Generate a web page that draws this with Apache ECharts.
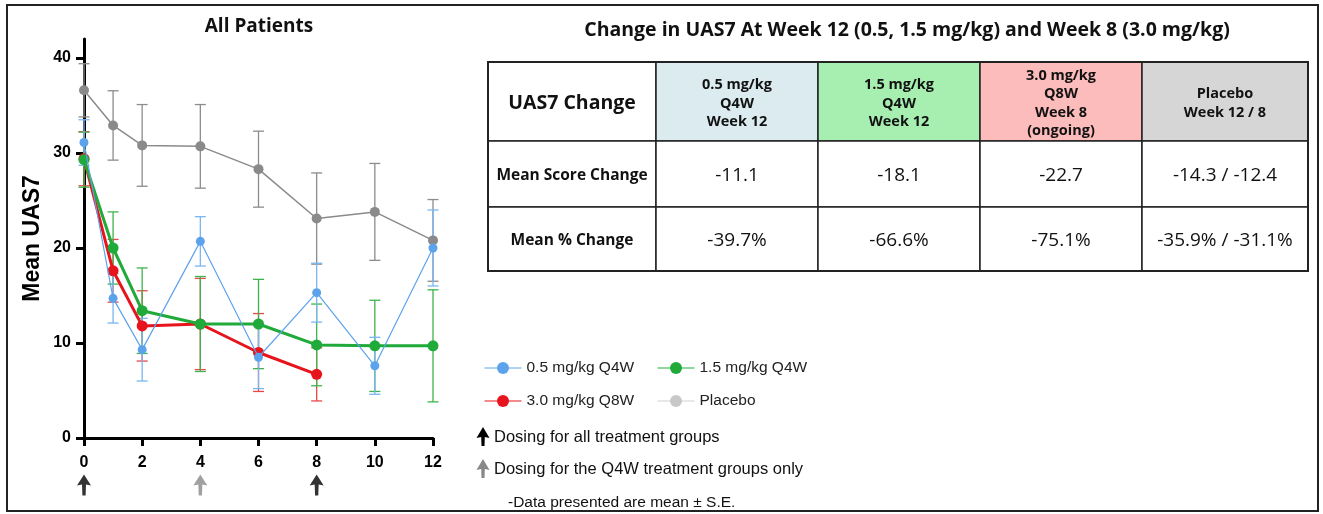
<!DOCTYPE html>
<html>
<head>
<meta charset="utf-8">
<script src="https://cdn.jsdelivr.net/npm/echarts@6/dist/echarts.min.js"></script>
<style>
  html, body { margin: 0; padding: 0; background: #fff; }
  #chart { width: 1323px; height: 514px; }
</style>
</head>
<body>
<div id="chart"></div>
<script>
var myChart = echarts.init(document.getElementById('chart'));

// weeks on the x axis
var weeks = [0, 1, 2, 4, 6, 8, 10, 12];
var weeks30 = [0, 1, 2, 4, 6, 8];

// mean UAS7 and standard error per group
var dose05 = [31.1, 14.7, 9.3, 20.7, 8.5, 15.3, 7.6, 20.0];
var dose05SE = [2.4, 2.6, 3.3, 2.6, 3.3, 3.1, 3.0, 4.0];
var dose15 = [29.3, 20.0, 13.4, 12.0, 12.0, 9.8, 9.7, 9.7];
var dose15SE = [2.9, 3.8, 4.5, 5.0, 4.7, 4.3, 4.8, 5.9];
var dose30 = [29.4, 17.6, 11.8, 12.0, 9.0, 6.7];
var dose30SE = [2.85, 3.3, 3.7, 4.8, 4.1, 2.8];
var placebo = [36.6, 32.9, 30.8, 30.7, 28.3, 23.1, 23.8, 20.8];
var placeboSE = [2.8, 3.65, 4.3, 4.4, 4.0, 4.8, 5.1, 4.3];

var yTicks = [0, 10, 20, 30, 40];
var xTicks = [0, 2, 4, 6, 8, 10, 12];

// dosing arrows under the x axis
var dosingWeeks = [0, 4, 8];
var dosingColors = ['#000', '#888', '#000'];

// table
var tableTitle = 'Change in UAS7 At Week 12 (0.5, 1.5 mg/kg) and Week 8 (3.0 mg/kg)';
var tableHeader = ['UAS7 Change', '0.5 mg/kg\nQ4W\nWeek 12', '1.5 mg/kg\nQ4W\nWeek 12',
  '3.0 mg/kg\nQ8W\nWeek 8\n(ongoing)', 'Placebo\nWeek 12 / 8'];
var headerColors = ['#fff', '#dbebef', '#a6efb1', '#fdbcbc', '#d6d6d6'];
var rowLabels = ['Mean Score Change', 'Mean % Change'];
var scoreChange = ['-11.1', '-18.1', '-22.7', '-14.3 / -12.4'];
var pctChange = ['-39.7%', '-66.6%', '-75.1%', '-35.9% / -31.1%'];

var colEdges = [488, 656, 818, 980, 1142, 1308];
var rowEdges = [62, 141, 207, 271];

var C05 = '#5da3ec', C15 = '#1faa3a', C30 = '#e8141c', CPL = '#8a8a8a';

function errData(xs, ys, se) {
  return xs.map(function (x, i) { return [x, ys[i] - se[i], ys[i] + se[i]]; });
}
function pairs(xs, ys) {
  return xs.map(function (x, i) { return [x, ys[i]]; });
}
function errSeries(name, data, color) {
  return {
    type: 'custom', name: name, data: data, z: 1, silent: true,
    renderItem: function (params, api) {
      var x = api.value(0);
      var top = api.coord([x, api.value(2)]);
      var bot = api.coord([x, api.value(1)]);
      var w = 5.5;
      var st = { stroke: color, lineWidth: 1.3 };
      return {
        type: 'group', children: [
          { type: 'line', shape: { x1: top[0], y1: top[1], x2: bot[0], y2: bot[1] }, style: st },
          { type: 'line', shape: { x1: top[0] - w, y1: top[1], x2: top[0] + w, y2: top[1] }, style: st },
          { type: 'line', shape: { x1: bot[0] - w, y1: bot[1], x2: bot[0] + w, y2: bot[1] }, style: st }
        ]
      };
    }
  };
}

// table and text graphics
var g = [];
g.push({ type: 'rect', shape: { x: 7, y: 5, width: 1311, height: 506 },
  style: { fill: 'none', stroke: '#222', lineWidth: 2 }, z: 0 });
g.push({ type: 'text', x: 259, y: 27, style: { text: 'All Patients', align: 'center', verticalAlign: 'middle',
  font: 'bold 19px "Open Sans"', fill: '#111' } });
g.push({ type: 'text', x: 907, y: 30, style: { text: tableTitle, align: 'center', verticalAlign: 'middle',
  font: 'bold 19.5px "Open Sans"', fill: '#111' } });

for (var c = 0; c < 5; c++) {
  var x0 = colEdges[c], x1 = colEdges[c + 1];
  for (var r = 0; r < 3; r++) {
    var y0 = rowEdges[r], y1 = rowEdges[r + 1];
    g.push({ type: 'rect', shape: { x: x0, y: y0, width: x1 - x0, height: y1 - y0 },
      style: { fill: r === 0 ? headerColors[c] : '#fff', stroke: '#222', lineWidth: 1.5 } });
    var txt, font;
    if (r === 0) {
      txt = tableHeader[c];
      font = c === 0 ? 'bold 19.5px "Open Sans"' : 'bold 14.5px "Open Sans"';
    } else if (c === 0) {
      txt = rowLabels[r - 1];
      font = 'bold 15.5px "Open Sans"';
    } else {
      txt = (r === 1 ? scoreChange : pctChange)[c - 1];
      font = '19px "Open Sans"';
    }
    g.push({ type: 'text', x: (x0 + x1) / 2, y: (y0 + y1) / 2 + 2,
      style: { text: txt, align: 'center', verticalAlign: 'middle', font: font, fill: '#111', lineHeight: 18.5 } });
  }
}
g.push({ type: 'rect', shape: { x: colEdges[0], y: rowEdges[0], width: colEdges[5] - colEdges[0], height: rowEdges[3] - rowEdges[0] },
  style: { fill: 'none', stroke: '#222', lineWidth: 2 } });

// notes
function arrowPts(cx, top) {
  return [[cx, top], [cx + 6.5, top + 11], [cx + 1.8, top + 10], [cx + 1.5, top + 19], [cx - 1.5, top + 19], [cx - 1.8, top + 10], [cx - 6.5, top + 11]];
}
g.push({ type: 'polygon', shape: { points: arrowPts(483, 427) }, style: { fill: '#000' } });
g.push({ type: 'text', x: 494, y: 437, style: { text: 'Dosing for all treatment groups', verticalAlign: 'middle',
  font: '16.5px "Liberation Sans"', fill: '#111' } });
g.push({ type: 'polygon', shape: { points: arrowPts(483, 459) }, style: { fill: '#888' } });
g.push({ type: 'text', x: 494, y: 469, style: { text: 'Dosing for the Q4W treatment groups only', verticalAlign: 'middle',
  font: '16.5px "Liberation Sans"', fill: '#111' } });
g.push({ type: 'text', x: 508, y: 503, style: { text: '-Data presented are mean \u00b1 S.E.', verticalAlign: 'middle',
  font: '15.5px "Liberation Sans"', fill: '#111' } });

var arrowPath = 'path://M7,0 L14,11 L9,10 L8.6,21 L5.4,21 L5,10 L0,11 Z';

var legendBase = {
  orient: 'vertical', itemWidth: 37, itemHeight: 15, itemGap: 17,
  textStyle: { fontFamily: 'Liberation Sans', fontSize: 15.5, color: '#222' }
};

option = {
  backgroundColor: '#fff',
  animation: false,
  graphic: g,
  legend: [
    Object.assign({}, legendBase, { left: 479, top: 355, data: [
      { name: '0.5 mg/kg Q4W', lineStyle: { width: 1 } },
      { name: '3.0 mg/kg Q8W', lineStyle: { width: 1 } }
    ] }),
    Object.assign({}, legendBase, { left: 652, top: 355, data: [
      { name: '1.5 mg/kg Q4W', lineStyle: { width: 1 } },
      { name: 'Placebo', itemStyle: { color: '#c8c8c8' }, lineStyle: { width: 1, color: '#d0d0d0' } }
    ] })
  ],
  grid: [
    { left: 84, right: 890, top: 39, bottom: 76 },
    { left: 84, right: 890, top: 472, height: 26 }
  ],
  xAxis: [{
    type: 'value', min: 0, max: 12, interval: 2, gridIndex: 0,
    splitLine: { show: false },
    axisLine: { lineStyle: { color: '#000', width: 3 } },
    axisTick: { length: 8, lineStyle: { color: '#000', width: 3 }, customValues: xTicks },
    axisLabel: { color: '#000', fontFamily: 'Liberation Sans', fontWeight: 'bold', fontSize: 16, margin: 17, customValues: xTicks }
  }, {
    type: 'value', min: 0, max: 12, gridIndex: 1, show: false
  }],
  yAxis: [{
    type: 'value', min: 0, max: 42, gridIndex: 0,
    name: 'Mean UAS7', nameLocation: 'middle', nameGap: 40,
    nameTextStyle: { color: '#000', fontFamily: 'Liberation Sans', fontWeight: 'bold', fontSize: 23 },
    splitLine: { show: false },
    axisLine: { show: true, lineStyle: { color: '#000', width: 3 } },
    axisTick: { show: true, length: 8, lineStyle: { color: '#000', width: 3 }, customValues: yTicks },
    axisLabel: { color: '#000', fontFamily: 'Liberation Sans', fontWeight: 'bold', fontSize: 16, margin: 13, customValues: yTicks }
  }, {
    type: 'value', min: 0, max: 1, gridIndex: 1, show: false
  }],
  series: [
    errSeries('errPlacebo', errData(weeks, placebo, placeboSE), '#8c8c8c'),
    errSeries('err30', errData(weeks30, dose30, dose30SE), '#e84848'),
    errSeries('err15', errData(weeks, dose15, dose15SE), '#3cb44b'),
    errSeries('err05', errData(weeks, dose05, dose05SE), '#7ab6f2'),
    { type: 'line', name: 'Placebo', data: pairs(weeks, placebo), z: 3,
      symbol: 'circle', symbolSize: 10, color: CPL, lineStyle: { width: 1.5, color: CPL } },
    { type: 'line', name: '3.0 mg/kg Q8W', data: pairs(weeks30, dose30), z: 4,
      symbol: 'circle', symbolSize: 11, color: C30, lineStyle: { width: 3, color: C30 } },
    { type: 'line', name: '1.5 mg/kg Q4W', data: pairs(weeks, dose15), z: 5,
      symbol: 'circle', symbolSize: 11, color: C15, lineStyle: { width: 3, color: C15 } },
    { type: 'line', name: '0.5 mg/kg Q4W', data: pairs(weeks, dose05), z: 6,
      symbol: 'circle', symbolSize: 9, color: C05, lineStyle: { width: 1.2, color: C05 } },
    { type: 'scatter', xAxisIndex: 1, yAxisIndex: 1, silent: true,
      symbol: arrowPath, symbolSize: [14, 21],
      data: dosingWeeks.map(function (w, i) { return { value: [w, 0.5], itemStyle: { color: dosingColors[i] } }; }) }
  ]
};

myChart.setOption(option);
</script>
</body>
</html>
